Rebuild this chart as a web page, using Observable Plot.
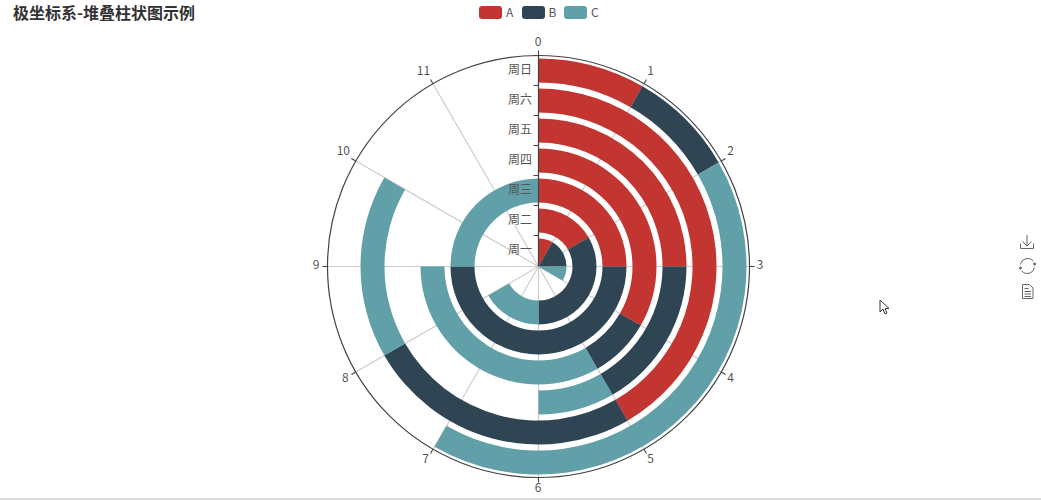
<!DOCTYPE html>
<html>
<head>
<meta charset="utf-8">
<script src="https://cdn.jsdelivr.net/npm/d3@7"></script>
<script src="https://cdn.jsdelivr.net/npm/@observablehq/plot@0.6"></script>
<style>
  html, body { margin: 0; padding: 0; background: #fff; overflow: hidden; }
  body { width: 1041px; height: 500px; position: relative; font-family: "Noto Sans CJK SC", "Noto Sans", sans-serif; }
  #title { position: absolute; left: 13px; top: 0; font-size: 16px; line-height: 25px; font-weight: 700; color: #333; }
  #legend { position: absolute; left: 479px; top: 4px; height: 14px; display: flex; align-items: center; font-size: 12px; color: #555; }
  #legend .item { display: flex; align-items: center; width: 42.5px; }
  #legend i { display: block; width: 23px; height: 13px; border-radius: 3px; margin-right: 4px; position: relative; top: 1px; }
  #chart { position: absolute; left: 0; top: 0; }
  #tools { position: absolute; left: 1018px; top: 233px; }
  #cursor { position: absolute; left: 879px; top: 299px; }
  #rule { position: absolute; left: 0; top: 498px; width: 1041px; height: 2px; background: #ddd; }
</style>
</head>
<body>
<div id="chart"></div>
<div id="title"></div>
<div id="legend"></div>
<svg id="tools" width="20" height="70" fill="none" stroke="#666" stroke-width="1">
  <path d="M2.500 10.500v5h13v-5M9 2v11M4.500 8.500L9 13l4.500-4.500"/>
  <path d="M2.400 31.500a7.500 7.500 0 0 1 13-3.500M16.600 34.500a7.500 7.500 0 0 1-13 3.500"/>
  <circle cx="2.400" cy="35" r="1" fill="#666"/><circle cx="16.600" cy="31" r="1" fill="#666"/>
  <path d="M4.500 51.500h7l3.500 3.500v10.500h-10.500zM6.500 55.500h4M6.500 58.500h6.500M6.500 61h6.500M6.500 63.500h6.500"/>
</svg>
<svg id="cursor" width="12" height="17"><path d="M1 1v12l3-3 2 5 2-1-2-4.500h4z" fill="#fff" stroke="#333" stroke-width="1"/></svg>
<div id="rule"></div>
<script>
const titleText = "极坐标系-堆叠柱状图示例";
const days = ["周一", "周二", "周三", "周四", "周五", "周六", "周日"];
const seriesNames = ["A", "B", "C"];
const seriesA = [1, 2, 3, 4, 3, 5, 1];
const seriesB = [2, 4, 6, 1, 2, 3, 1];
const seriesC = [1, 2, 3, 4, 1, 2, 5];
const colors = ["#c23531", "#2f4554", "#61a0a8"];
const angleTicks = [0, 1, 2, 3, 4, 5, 6, 7, 8, 9, 10, 11];

const rows = [];
[seriesA, seriesB, seriesC].forEach((vals, s) =>
  vals.forEach((value, i) => rows.push({day: days[i], series: seriesNames[s], value}))
);

document.getElementById("title").textContent = titleText;
const legend = document.getElementById("legend");
seriesNames.forEach((n, i) => {
  const it = document.createElement("div");
  it.className = "item";
  it.innerHTML = `<i style="background:${colors[i]}"></i><span>${n}</span>`;
  legend.appendChild(it);
});

// Polar layout: the x scale yields degrees clockwise from north, the y band scale yields radii.
const cx = 538.5, cy = 266.5, R = 211;
const svgEl = (name) => document.createElementNS("http://www.w3.org/2000/svg", name);
const sin = (deg) => Math.sin(deg * Math.PI / 180);
const cos = (deg) => Math.cos(deg * Math.PI / 180);
const px = (deg, r) => [cx + r * sin(deg), cy - r * cos(deg)];
const side = (v) => Math.abs(v) < 1e-9 ? 0 : Math.sign(v);

function line(parent, [x1, y1], [x2, y2], stroke, width = 1) {
  const l = svgEl("line");
  l.setAttribute("x1", x1); l.setAttribute("y1", y1);
  l.setAttribute("x2", x2); l.setAttribute("y2", y2);
  l.setAttribute("stroke", stroke);
  l.setAttribute("stroke-width", width);
  parent.appendChild(l);
}

// Radial split lines under the bars and tick marks outside the circle
const renderGrid = (index, scales, values) => {
  const g = svgEl("g");
  for (const i of index) {
    line(g, px(values.x[i], 0), px(values.x[i], R), "#ccc", 1.2);
    line(g, px(values.x[i], R), px(values.x[i], R + 5), "#444", 1.1);
  }
  return g;
};

// Outer circle of the angle axis
const circleMark = (index, {y}) => {
  const c = svgEl("circle");
  c.setAttribute("cx", cx); c.setAttribute("cy", cy);
  c.setAttribute("r", y.range()[1]);
  c.setAttribute("fill", "none");
  c.setAttribute("stroke", "#444");
  c.setAttribute("stroke-width", 1.2);
  return c;
};

// Stacked bars, turned into annular sectors
const renderBars = (index, scales, values) => {
  const g = svgEl("g");
  const bw = scales.y.bandwidth();
  const arc = d3.arc();
  for (const i of index) {
    const r0 = values.y[i], r1 = r0 + bw;
    const p = svgEl("path");
    p.setAttribute("transform", `translate(${cx},${cy})`);
    p.setAttribute("fill", values.fill[i]);
    p.setAttribute("d", arc({
      innerRadius: r0 < bw / 2 ? 1 : r0,
      outerRadius: r1,
      startAngle: values.x1[i] * Math.PI / 180,
      endAngle: values.x2[i] * Math.PI / 180
    }));
    g.appendChild(p);
  }
  return g;
};

// Radius axis: vertical line with ticks on the band boundaries
const radiusAxis = (index, {y}) => {
  const g = svgEl("g");
  line(g, [cx, cy], [cx, cy - R], "#444", 1.2);
  const step = y.step();
  const edges = days.map(d => y(d) + y.bandwidth() + (step - y.bandwidth()) / 2);
  for (const r of edges) line(g, [cx - 5, cy - r], [cx, cy - r], "#444", 1.1);
  return g;
};

const renderAngleLabels = (index, scales, values, dims, ctx, next) => {
  const X = [], Y = [];
  for (const i of index) {
    const deg = values.x[i];
    const wide = String(Math.round(deg / 30)).length - 1;
    X[i] = cx - 1 + (R + 8) * sin(deg) + (3 + wide * 2) * side(sin(deg));
    Y[i] = cy - 2 - (R + 8) * cos(deg) - 4 * side(cos(deg));
  }
  return next(index, {...scales, x: null, y: null}, {...values, x: X, y: Y}, dims, ctx);
};

const renderDayLabels = (index, scales, values, dims, ctx, next) => {
  const bw = scales.y.bandwidth();
  const X = [], Y = [];
  for (const i of index) {
    X[i] = cx - 7;
    Y[i] = cy - 1 - (values.y[i] + bw / 2);
  }
  return next(index, {...scales, x: null, y: null}, {...values, x: X, y: Y}, dims, ctx);
};

const chart = Plot.plot({
  width: 1041,
  height: 500,
  margin: 0,
  style: {background: "transparent", fontFamily: '"Noto Sans CJK SC", "Noto Sans", sans-serif'},
  x: {domain: [0, 12], range: [0, 360], axis: null},
  y: {type: "band", domain: days, range: [0, R], paddingInner: 0.2, paddingOuter: 0.1, axis: null},
  color: {domain: seriesNames, range: colors},
  marks: [
    Plot.ruleX(angleTicks, {x: d => d, render: renderGrid}),
    circleMark,
    Plot.barX(rows, {y: "day", x: "value", fill: "series", render: renderBars}),
    radiusAxis,
    Plot.text(angleTicks, {x: d => d, text: d => String(d), fontSize: 12, fill: "#555", render: renderAngleLabels}),
    Plot.text(days, {y: d => d, text: d => d, textAnchor: "end", fontSize: 12, fill: "#555", render: renderDayLabels})
  ]
});
document.getElementById("chart").appendChild(chart);
</script>
</body>
</html>
